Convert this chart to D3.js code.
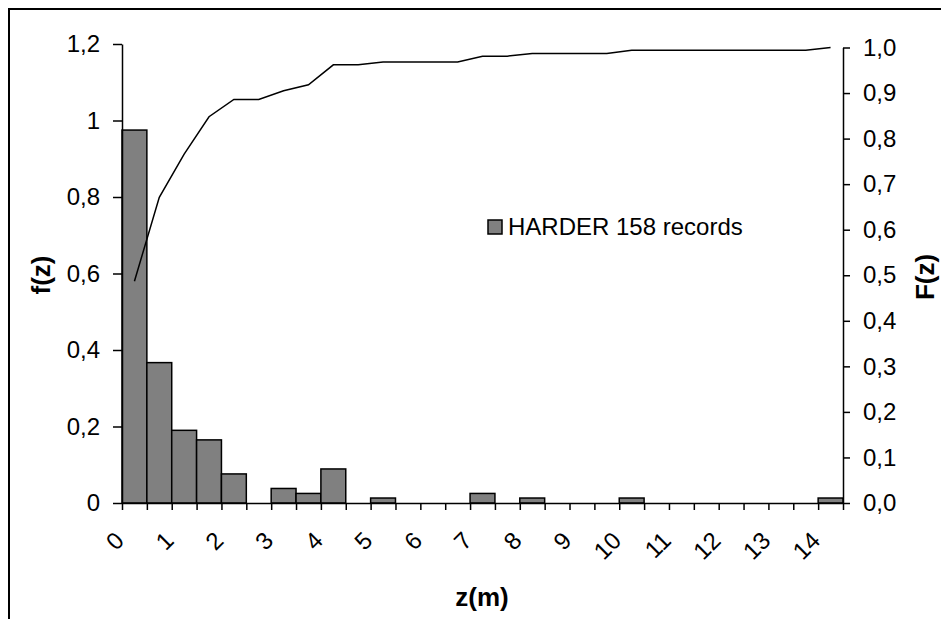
<!doctype html>
<html lang="en">
<head>
  <meta charset="utf-8">
  <title>HARDER f(z) / F(z)</title>
  <style>
  body{
    margin: 0;
    background: #fff;
  }
  svg text{
    font-family: Arial, "Liberation Sans", Helvetica, sans-serif;
  }
  </style>
  <script src="https://d3js.org/d3.v7.min.js"></script>
</head>
<body>
  <div id="chart"></div>
  <script>
  // bins of z (m), 0.5 m wide
  var zBins = [0, 0.5, 1, 1.5, 2, 2.5, 3, 3.5, 4, 4.5, 5, 5.5, 6, 6.5, 7, 7.5,
               8, 8.5, 9, 9.5, 10, 10.5, 11, 11.5, 12, 12.5, 13, 13.5, 14];
  // density f(z) per bin
  var fz = [0.975, 0.367, 0.190, 0.165, 0.076, 0, 0.038, 0.025, 0.089, 0, 0.013, 0, 0, 0, 0.025, 0,
            0.013, 0, 0, 0, 0.013, 0, 0, 0, 0, 0, 0, 0, 0.013];
  // cumulative F(z)
  var Fz = [0.487, 0.671, 0.766, 0.848, 0.886, 0.886, 0.905, 0.918, 0.962, 0.962, 0.968, 0.968, 0.968, 0.968, 0.981, 0.981,
            0.987, 0.987, 0.987, 0.987, 0.994, 0.994, 0.994, 0.994, 0.994, 0.994, 0.994, 0.994, 1.0];
  var xLabels = ["0","1","2","3","4","5","6","7","8","9","10","11","12","13","14"];
  var leftTicks = [0, 0.2, 0.4, 0.6, 0.8, 1, 1.2];
  var rightTicks = [0, 0.1, 0.2, 0.3, 0.4, 0.5, 0.6, 0.7, 0.8, 0.9, 1.0];
  var legendText = "HARDER 158 records";

  var W = 941, H = 619;
  var plot = {left: 122, right: 843, top: 44, bottom: 503};

  var svg = d3.select('#chart').append('svg')
    .attr('width', W)
    .attr('height', H);

  // outer chart border (runs off the picture at right and bottom)
  svg.append('rect')
    .attr('x', 9).attr('y', 9)
    .attr('width', W + 10).attr('height', H + 10)
    .attr('fill', 'none')
    .attr('stroke', '#000')
    .attr('stroke-width', 2);

  // scales
  var x = d3.scaleBand()
    .domain(d3.range(zBins.length))
    .range([plot.left, plot.right])
    .paddingInner(0).paddingOuter(0);

  var xEdge = d3.scaleLinear()
    .domain([0, zBins.length])
    .range([plot.left, plot.right]);

  var y = d3.scaleLinear()
    .domain([0, 1.2])
    .range([plot.bottom, plot.top]);

  var y2 = d3.scaleLinear()
    .domain([0, 1.0])
    .range([plot.bottom, 47.5]);

  var fmt = function(v, d) { return d3.format(d)(v).replace('.', ','); };

  // bars (empty bins are skipped)
  var barData = fz.map(function(v, i) { return {i: i, v: v}; })
    .filter(function(d) { return d.v > 0; });

  svg.append('g').selectAll('rect')
    .data(barData)
    .enter()
    .append('rect')
    .attr('x', function(d) { return x(d.i); })
    .attr('y', function(d) { return y(d.v); })
    .attr('width', x.bandwidth())
    .attr('height', function(d) { return plot.bottom - y(d.v); })
    .attr('fill', '#808080')
    .attr('stroke', '#000')
    .attr('stroke-width', 1.5);

  // cumulative line
  var line = d3.line()
    .x(function(d, i) { return x(i) + x.bandwidth() / 2; })
    .y(function(d) { return y2(d); });

  svg.append('path')
    .datum(Fz)
    .attr('d', line)
    .attr('fill', 'none')
    .attr('stroke', '#000')
    .attr('stroke-width', 1.5);

  // x axis, ticks on the bin edges
  var xAxis = d3.axisBottom(xEdge)
    .tickValues(d3.range(zBins.length + 1))
    .tickFormat('')
    .tickSize(7)
    .tickSizeOuter(0);

  var gx = svg.append('g')
    .attr('transform', 'translate(0,' + plot.bottom + ')')
    .call(xAxis);
  gx.selectAll('path, line').attr('stroke', '#000').attr('stroke-width', 1.5);

  // x labels, rotated
  svg.append('g').selectAll('text')
    .data(xLabels)
    .enter()
    .append('text')
    .attr('transform', function(d) {
      var i = zBins.indexOf(+d);
      return 'translate(' + (x(i) + x.bandwidth() / 2 - 9) + ',542) rotate(-45)';
    })
    .attr('text-anchor', 'end')
    .attr('font-size', '24px')
    .text(function(d) { return d; });

  // left axis
  var gy = svg.append('g')
    .attr('transform', 'translate(' + plot.left + ',0)')
    .call(d3.axisLeft(y).tickValues(leftTicks).tickSize(9).tickSizeOuter(0)
      .tickFormat(function(d) { return d == 0 || d == 1 ? String(d) : fmt(d, '.1f'); }));
  gy.selectAll('path, line').attr('stroke', '#000').attr('stroke-width', 1.5);
  gy.selectAll('text').attr('font-size', '24px').attr('fill', '#000')
    .attr('x', -22).attr('font-family', 'Arial, "Liberation Sans", sans-serif');

  // right axis
  var gy2 = svg.append('g')
    .attr('transform', 'translate(' + plot.right + ',0)')
    .call(d3.axisRight(y2).tickValues(rightTicks).tickSize(7).tickSizeOuter(0)
      .tickFormat(function(d) { return fmt(d, '.1f'); }));
  gy2.selectAll('path, line').attr('stroke', '#000').attr('stroke-width', 1.5);
  gy2.selectAll('text').attr('font-size', '24px').attr('fill', '#000')
    .attr('x', 20).attr('font-family', 'Arial, "Liberation Sans", sans-serif');

  // legend
  svg.append('rect')
    .attr('x', 488).attr('y', 220)
    .attr('width', 14).attr('height', 14)
    .attr('fill', '#808080')
    .attr('stroke', '#000')
    .attr('stroke-width', 1.5);
  svg.append('text')
    .attr('x', 508).attr('y', 235)
    .attr('font-size', '24px')
    .text(legendText);

  // axis titles
  svg.append('text')
    .attr('transform', 'translate(50,275) rotate(-90)')
    .attr('text-anchor', 'middle')
    .attr('font-size', '26px')
    .attr('font-weight', 'bold')
    .text('f(z)');

  svg.append('text')
    .attr('transform', 'translate(934,277) rotate(-90)')
    .attr('text-anchor', 'middle')
    .attr('font-size', '26px')
    .attr('font-weight', 'bold')
    .text('F(z)');

  svg.append('text')
    .attr('x', 482).attr('y', 606)
    .attr('text-anchor', 'middle')
    .attr('font-size', '26px')
    .attr('font-weight', 'bold')
    .text('z(m)');
  </script>
</body>
</html>
